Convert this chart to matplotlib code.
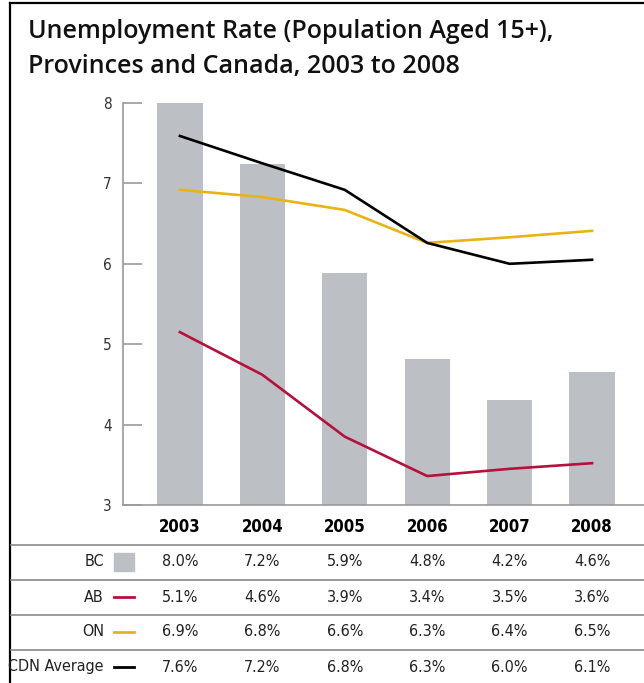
import matplotlib.pyplot as plt
import matplotlib.transforms as mtransforms
from matplotlib import font_manager
from matplotlib.lines import Line2D
from matplotlib.patches import Rectangle

years = ["2003", "2004", "2005", "2006", "2007", "2008"]

# values as drawn in the chart
bc = [8.0, 7.24, 5.88, 4.82, 4.3, 4.65]
ab = [5.15, 4.62, 3.85, 3.36, 3.45, 3.52]
on = [6.92, 6.83, 6.67, 6.26, 6.33, 6.41]
cdn = [7.59, 7.25, 6.92, 6.26, 6.0, 6.05]

# values as printed in the table
bc_txt = ["8.0%", "7.2%", "5.9%", "4.8%", "4.2%", "4.6%"]
ab_txt = ["5.1%", "4.6%", "3.9%", "3.4%", "3.5%", "3.6%"]
on_txt = ["6.9%", "6.8%", "6.6%", "6.3%", "6.4%", "6.5%"]
cdn_txt = ["7.6%", "7.2%", "6.8%", "6.3%", "6.0%", "6.1%"]

bar_col = "#bcc0c4"
ab_col = "#b5113c"
on_col = "#e8b414"
cdn_col = "#000000"

# pick a narrow face if there is one
fonts = font_manager.fontManager.ttflist
names = {f.name for f in fonts}
if "Liberation Sans Narrow" in names:
    cond = dict(family="Liberation Sans Narrow")
elif any(f.name == "DejaVu Sans" and "condensed" in str(f.stretch) for f in fonts):
    cond = dict(family="DejaVu Sans", stretch="condensed")
else:
    cond = dict(family="DejaVu Sans")

W, H = 644, 683
fig = plt.figure(figsize=(W / 100, H / 100), dpi=100)

def fx(px):
    return px / W

def fy(py):
    return 1 - py / H

ax = fig.add_axes([fx(123), fy(505), 1 - fx(123), fy(103) - fy(505)])
x = list(range(len(years)))
ax.bar(x, bc, width=0.55, color=bar_col, zorder=1)
ax.plot(x, ab, color=ab_col, lw=1.9, zorder=3)
ax.plot(x, on, color=on_col, lw=1.9, zorder=3)
ax.plot(x, cdn, color=cdn_col, lw=1.9, zorder=3)
ax.set_ylim(3, 8)
ax.set_xlim(-0.69, 5.63)
ax.set_xticks([])
ax.set_yticks([3, 4, 5, 6, 7, 8])
ax.tick_params(axis="y", direction="in", length=14, width=1.2, color="#9a9a9a",
               labelsize=11, labelcolor="#333333", pad=8)
for lab in ax.get_yticklabels():
    lab.set(**cond)
for s in ["top", "right"]:
    ax.spines[s].set_visible(False)
for s in ["left", "bottom"]:
    ax.spines[s].set_color("#9a9a9a")
    ax.spines[s].set_linewidth(1.2)

# title
fig.text(fx(28), fy(32), "Unemployment Rate (Population Aged 15+),", fontsize=18,
         family="Open Sans", fontweight="semibold", va="center", ha="left", color="#111111")
fig.text(fx(28), fy(66), "Provinces and Canada, 2003 to 2008", fontsize=18,
         family="Open Sans", fontweight="semibold", va="center", ha="left", color="#111111")

# frame
fig.add_artist(Line2D([fx(10), fx(10)], [fy(3), 0], color="black", lw=1.6))
fig.add_artist(Line2D([fx(10), 1], [fy(3), fy(3)], color="black", lw=1.6))

# table
tr = mtransforms.blended_transform_factory(ax.transData, fig.transFigure)
for i, yr in enumerate(years):
    fig.text(i, fy(527), yr, transform=tr, ha="center", va="center",
             fontsize=12, fontweight="bold", **cond)

for py in [545, 580, 615, 650]:
    fig.add_artist(Line2D([fx(11), 1], [fy(py), fy(py)], color="#8a8a8a", lw=1.2))

rows = [("BC", bc_txt, "bar", bar_col, 562),
        ("AB", ab_txt, "line", ab_col, 597),
        ("ON", on_txt, "line", on_col, 632),
        ("CDN Average", cdn_txt, "line", cdn_col, 667)]
for name, vals, kind, col, py in rows:
    fig.text(fx(104), fy(py), name, ha="right", va="center", fontsize=11.5,
             color="#222222", **cond)
    if kind == "bar":
        fig.add_artist(Rectangle((fx(114), fy(571)), fx(20), fy(553) - fy(571),
                                 color=col, transform=fig.transFigure))
    else:
        fig.add_artist(Line2D([fx(114), fx(134)], [fy(py), fy(py)], color=col, lw=2))
    for i, v in enumerate(vals):
        fig.text(i, fy(py), v, transform=tr, ha="center", va="center",
                 fontsize=11.5, color="#222222", **cond)

fig.savefig("out.png", dpi=100)
